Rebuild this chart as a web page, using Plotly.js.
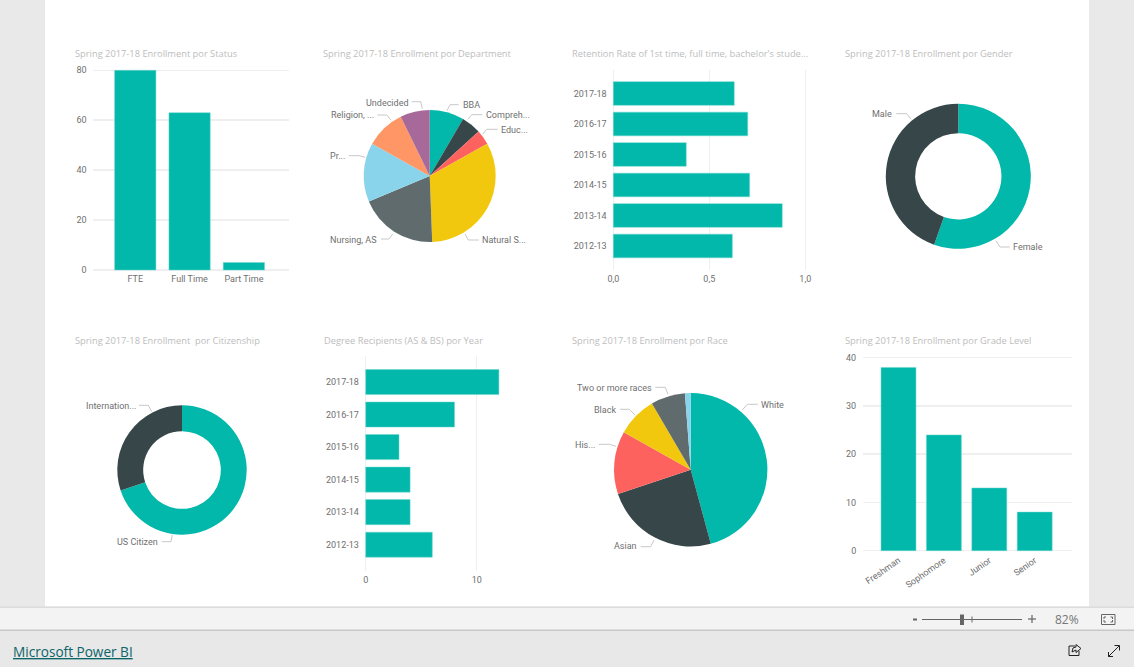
<!DOCTYPE html>
<html><head><meta charset="utf-8">
<script src="https://cdn.plot.ly/plotly-3.0.1.min.js"></script>
<style>html,body{margin:0;padding:0;overflow:hidden;background:#e9e9e9}#c{width:1134px;height:667px}</style>
</head><body><div id="c"></div>
<script>
// ---------- data ----------
const statusCats = ['FTE','Full Time','Part Time'];
const statusVals = [80,63,3];
const yearCats = ['2012-13','2013-14','2014-15','2015-16','2016-17','2017-18'];
const retentionVals = [0.62,0.88,0.71,0.38,0.70,0.63];
const degreeVals = [6,4,4,3,8,12];
const gradeCats = ['Freshman','Sophomore','Junior','Senior'];
const gradeVals = [38,24,13,8];
const deptLabels = ['BBA','Compreh...','Educ...','Natural S...','Nursing, AS','Pr...','Religion, ...','Undecided'];
const deptVals = [7,4,3,27,16,12,8,6];
const raceLabels = ['White','Asian','His...','Black','Two or more races',''];
const raceVals = [38,20,11,7,6,1];
const genderLabels = ['Female','Male'];
const genderVals = [46,37];
const citizenLabels = ['US Citizen','Internation...'];
const citizenVals = [58,25];
const titles = [
 ['Spring 2017-18 Enrollment por Status',75,53.5],
 ['Spring 2017-18 Enrollment por Department',323,53.5],
 ["Retention Rate of 1st time, full time, bachelor's stude...",571.5,53.5],
 ['Spring 2017-18 Enrollment por Gender',845,53.5],
 ['Spring 2017-18 Enrollment  por Citizenship',75,340.5],
 ['Degree Recipients (AS & BS) por Year',323.5,340.5],
 ['Spring 2017-18 Enrollment por Race',571.5,340.5],
 ['Spring 2017-18 Enrollment por Grade Level',845,340.5]
];
const TEAL='#01B8AA';
const pieColors=['#01B8AA','#374649','#FD625E','#F2C80F','#5F6B6D','#8AD4EB','#FE9666','#A66999'];
const raceColors=['#01B8AA','#374649','#FD625E','#F2C80F','#5F6B6D','#8AD4EB'];
const W=1134,H=667;
const FONT='"Roboto", sans-serif', TICK='#6f6f6f', FS=9;
const fx=x=>x/W, fy=y=>1-y/H;
const dx=(a,b)=>[fx(a),fx(b)], dy=(top,bot)=>[fy(bot),fy(top)];

const data=[], shapes=[], annotations=[];
const layout={width:W,height:H,margin:{l:0,r:0,t:0,b:0},paper_bgcolor:'#e9e9e9',plot_bgcolor:'rgba(0,0,0,0)',
  showlegend:false,hovermode:false,shapes,annotations};

function axisX(o){return Object.assign({showline:false,zeroline:false,ticks:'outside',ticklen:3,tickcolor:'rgba(0,0,0,0)',
  tickfont:{family:FONT,size:FS,color:TICK},fixedrange:true,gridcolor:'#efefef',gridwidth:1.5},o)}
function barChart(i,cats,vals,orient,xd,yd,xo,yo,w){
  const s=i===1?'':i;
  data.push({type:'bar',orientation:orient,x:orient==='v'?cats:vals,y:orient==='v'?vals:cats,width:w,
    marker:{color:TEAL,line:{color:'#6fd6ce',width:0.5}},xaxis:'x'+s,yaxis:'y'+s});
  layout['xaxis'+s]=axisX(Object.assign({domain:xd,anchor:'y'+s},xo));
  layout['yaxis'+s]=axisX(Object.assign({domain:yd,anchor:'x'+s},yo));
}
barChart(1,statusCats,statusVals,'v',dx(93.3,288.7),dy(68.3,272),
  {type:'category',range:[-0.773,2.825],showgrid:false,ticklen:0,anchor:'free',position:fy(270)},
  {range:[-0.8,80.8],tickvals:[0,20,40,60,80],showgrid:true,ticklen:4},0.76);
barChart(2,yearCats,retentionVals,'h',dx(611.4,807.2),dy(70,270),
  {range:[-0.01,1.01],tickvals:[0,0.5,1],ticktext:['0,0','0,5','1,0'],showgrid:true,ticklen:0},
  {type:'category',range:[-0.787,5.77],showgrid:false,ticklen:2},0.777);
barChart(3,yearCats,degreeVals,'h',dx(364.6,543.3),dy(356,570.7),
  {range:[-0.1,16],tickvals:[0,10],showgrid:true,ticklen:0},
  {type:'category',range:[-0.8,5.8],showgrid:false,ticklen:3},0.77);
barChart(4,gradeCats,gradeVals,'v',dx(863,1071.7),dy(355.8,552.6),
  {type:'category',range:[-0.782,3.815],showgrid:false,tickangle:-35,ticklen:0,anchor:'free',position:fy(550.7)},
  {range:[-0.4,40.4],tickvals:[0,10,20,30,40],showgrid:true,ticklen:4},0.77);

// placement: [anchor, label x, label y, line start x, elbow x, line y, attach x, attach y]
function pie(labels,vals,colors,cx,cy,r,hole,placements){
  data.push({type:'pie',labels,values:vals,sort:false,direction:'clockwise',rotation:0,hole,textinfo:'none',
    marker:{colors,line:{width:0}},domain:{x:dx(cx-r,cx+r),y:dy(cy-r,cy+r)}});
  placements.forEach((p,i)=>{
    if(!p)return;
    const [side,tx,ty,x1,x2,ly,ex,ey]=p;
    annotations.push({xref:'paper',yref:'paper',x:fx(tx),y:fy(ty),text:labels[i],showarrow:false,
      xanchor:side,yanchor:'middle',borderpad:0,borderwidth:0,font:{family:FONT,size:FS,color:TICK}});
    shapes.push({type:'path',xref:'paper',yref:'paper',layer:'above',
      path:`M${fx(x1)} ${fy(ly)}L${fx(x2)} ${fy(ly)}L${fx(ex)} ${fy(ey)}`,line:{color:'#c8c8c8',width:1}});
  });
}
pie(deptLabels,deptVals,pieColors,429.7,176,66,0,[
 ['left',462.7,104.7,458.7,450,104.7,447,110.7],['left',485.7,115,482.3,471.7,114.7,468,119.3],
 ['left',501,130,497.7,486.7,129.3,482.7,134],['left',482,240,478.7,468.3,240,465,234],
 ['right',376.7,240,381,389,239,392.7,234],['right',345.3,156,348.7,359.3,155.7,365,157.3],
 ['right',374.3,115,377.3,386.7,115,391.3,120.3],['right',408,103,411.7,420.7,101.7,422.3,108.7]]);
pie(raceLabels,raceVals,raceColors,690.7,469.7,76.7,0,[
 ['left',761,405,757.7,747.3,404.3,742.3,410],['right',637.3,546,640.7,650.7,546.7,654,540],
 ['right',595.3,445,598.7,609.3,444.3,616,446.3],['right',616,410,620,629.3,409.3,635,415],
 ['right',651.7,388,655.3,665.3,387.3,668,394.3],null]);
pie(genderLabels,genderVals,['#01B8AA','#374649'],958.3,176.3,72.5,0.595,[
 ['left',1013,247,1009.7,1000,247,996,240.7],['right',892.3,114,896.3,906.7,113.7,911,119.3]]);
pie(citizenLabels,citizenVals,['#01B8AA','#374649'],182,470,64.7,0.6,[
 ['right',157.7,541.7,161.7,171,541.7,172.3,535],['right',135.7,406,139,148.3,405.3,151.7,411.7]]);

titles.forEach(t=>annotations.push({xref:'paper',yref:'paper',x:fx(t[1]),y:fy(t[2]),text:t[0],showarrow:false,
  xanchor:'left',yanchor:'middle',borderpad:0,borderwidth:0,font:{family:'"Open Sans", sans-serif',size:9.3,color:'#bdbdbd'}}));

// ---------- page chrome ----------
function rect(x0,y0,x1,y1,fill,line){shapes.push({type:'rect',xref:'paper',yref:'paper',layer:'below',
  x0:fx(x0),x1:fx(x1),y0:fy(y0),y1:fy(y1),fillcolor:fill,line:line||{width:0}})}
function pathPx(pts,color,w){shapes.push({type:'path',xref:'paper',yref:'paper',layer:'above',
  path:pts.map((p,i)=>(i?'L':'M')+fx(p[0])+' '+fy(p[1])).join(''),line:{color,width:w||1}})}
rect(45,0,1089,606.5,'#ffffff');
rect(0,607,W,630,'#f3f3f3');
rect(0,606.5,W,608,'#dcdcdc');
rect(0,629.5,W,631,'#c8c8c8');
rect(0,631,W,H,'#e8e8e8');
pathPx([[922,619.5],[1022,619.5]],'#666666',1);
rect(960,614.5,964,625,'#666666');
pathPx([[972,616.5],[972,622.5]],'#666666',1);
pathPx([[913,619.5],[917,619.5]],'#666666',2);
pathPx([[1028,619],[1036,619]],'#666666',1.2);
pathPx([[1032,615],[1032,623]],'#666666',1.2);
annotations.push({xref:'paper',yref:'paper',x:fx(1067),y:fy(619.5),text:'82%',showarrow:false,xanchor:'center',yanchor:'middle',
  font:{family:'"Open Sans", sans-serif',size:12,color:'#777777'}});
pathPx([[1101.5,614.5],[1115,614.5],[1115,624.5],[1101.5,624.5],[1101.5,614.5]],'#666666',1);
pathPx([[1104,619],[1104,617],[1106,617]],'#666666',1);
pathPx([[1112.5,619],[1112.5,617],[1110.5,617]],'#666666',1);
pathPx([[1104,620],[1104,622],[1106,622]],'#666666',1);
pathPx([[1112.5,620],[1112.5,622],[1110.5,622]],'#666666',1);
annotations.push({xref:'paper',yref:'paper',x:fx(13.3),y:fy(651),text:'<u>Microsoft Power BI</u>',showarrow:false,xanchor:'left',yanchor:'middle',borderpad:0,borderwidth:0,
  font:{family:'"Open Sans", sans-serif',size:13.6,color:'#0a6468'}});
// share icon
pathPx([[1075,646],[1069,646],[1069,655.5],[1079,655.5],[1079,651]],'#222222',1);
pathPx([[1072,652],[1073,648],[1076,647],[1076,644.5],[1081,648.5],[1076,652.5],[1076,650],[1072,652]],'#222222',1);
// expand icon
pathPx([[1108.5,656.5],[1119,646]],'#222222',1);
pathPx([[1108.5,652],[1108.5,656.5],[1113,656.5]],'#222222',1);
pathPx([[1114.5,645.5],[1119.5,645.5],[1119.5,650.5]],'#222222',1);

Plotly.newPlot('c',data,layout,{displayModeBar:false,staticPlot:true});
</script></body></html>
